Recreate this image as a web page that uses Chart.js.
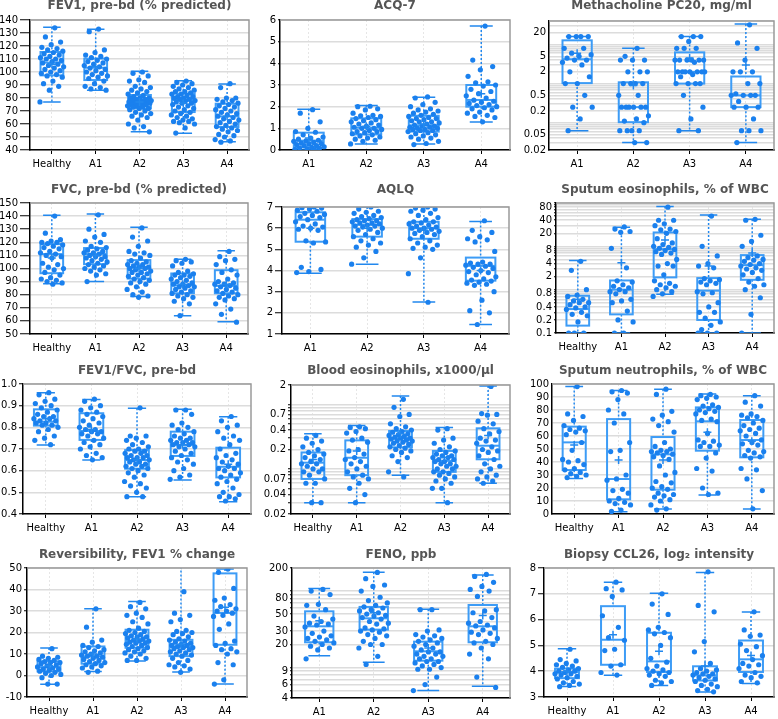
<!DOCTYPE html>
<html>
<head>
<meta charset="utf-8">
<script src="https://cdn.jsdelivr.net/npm/chart.js@4.4.1/dist/chart.umd.min.js"></script>
<style>
  html, body { margin: 0; padding: 0; background: #fff; }
  #wrap { position: relative; width: 778px; height: 719px; overflow: hidden; }
  .cell { position: absolute; }
</style>
</head>
<body>
<div id="wrap"></div>
<script>
"use strict";

var groups5 = ["Healthy", "A1", "A2", "A3", "A4"];
var groups4 = ["A1", "A2", "A3", "A4"];

// box stats per group: [whisker low, Q1, median, Q3, whisker high, mean]

// FEV1, pre-bd
var fev1Points = [
  [134,127,123,121,119,118,117,116,115,114,113,112,111,110,110,109,108,107,106,105,104,103,102,101,100,99,98,97,96,93,91,89,86,77],
  [133,131,117,115,113,112,111,110,109,108,107,106,105,104,103,102,101,100,99,98,97,96,95,93,91,89,88,87,86],
  [100,99,97,94,93,92,89,88,87,86,85,84,83,82,81,80,80,80,79,79,78,78,78,77,77,77,76,76,76,75,75,75,74,74,73,73,72,72,71,70,69,68,67,66,65,63,60,58,57,54],
  [93,92,91,90,89,88,87,86,85,85,84,83,83,82,81,81,80,80,79,79,78,78,77,76,76,75,74,73,72,71,70,69,68,67,66,65,64,63,62,62,61,60,57,53],
  [91,88,80,80,79,78,77,76,75,74,73,72,71,70,69,68,67,66,65,64,63,62,61,60,59,58,57,56,55,54,52,51,50,48,47,46]
];
var fev1Box = [[77,97.4,107.2,115.4,134.4,106],[86,93.8,103.3,110.3,132.8,104],[54,72,77.2,82.3,100.5,77],[52.8,69.2,78.5,83.3,93.3,76],[46.4,57.7,65.9,75.6,90.8,66]];

// ACQ-7
var acqPoints = [
  [1.86,1.7,1.3,1.0,0.85,0.82,0.7,0.6,0.55,0.5,0.45,0.42,0.4,0.35,0.32,0.3,0.28,0.25,0.2,0.2,0.15,0.12,0.1,0.08,0.05,0.02,0],
  [2.02,2.0,1.9,1.85,1.7,1.6,1.58,1.55,1.5,1.45,1.4,1.35,1.3,1.25,1.2,1.15,1.1,1.05,1.0,1.0,0.95,0.9,0.85,0.85,0.8,0.75,0.7,0.65,0.6,0.55,0.5,0.45,0.4,0.28],
  [2.45,2.4,2.2,2.1,2.0,1.9,1.85,1.8,1.75,1.7,1.65,1.6,1.55,1.5,1.45,1.45,1.4,1.35,1.3,1.3,1.25,1.2,1.15,1.1,1.1,1.05,1.05,1.0,1.0,0.95,0.95,0.9,0.9,0.85,0.8,0.75,0.7,0.65,0.6,0.55,0.5,0.4,0.3,0.25],
  [5.72,4.15,3.85,3.7,3.4,3.15,3.1,3.0,2.95,2.8,2.7,2.6,2.5,2.4,2.3,2.25,2.2,2.15,2.1,2.05,2.0,1.95,1.9,1.85,1.75,1.7,1.6,1.55,1.5,1.3]
];
var acqBox = [[0,0.12,0.43,0.8,1.88,0.55],[0.28,0.72,1.03,1.46,2.05,1.1],[0.28,0.85,1.14,1.58,2.43,1.2],[1.29,2.0,2.31,3.0,5.72,2.6]];

// Methacholine PC20
var methPoints = [
  [16,16,16,16,8,8,6,5.5,5,4.5,4,4,3.5,3,2,1.5,1,1,0.5,0.25,0.25,0.125,0.0625],
  [8,5,4,4,4,2,2,2,1,1,1,1,0.5,0.5,0.25,0.25,0.25,0.25,0.25,0.25,0.15,0.125,0.11,0.1,0.0625,0.0625,0.0625,0.0625,0.031,0.031],
  [16,16,16,12,8,8,8,4,4,4,4,4,4,3.5,2,2,2,2,2,2,2,1.7,1.5,1,1,1,1,0.5,0.25,0.125,0.0625,0.0625],
  [32,11,8,4,2,2,2,1,1,0.55,0.5,0.5,0.5,0.5,0.35,0.25,0.25,0.25,0.125,0.0625,0.0625,0.0625,0.031]
];
var methBox = [[0.0625,1.03,4.2,12.8,16,6],[0.031,0.103,0.25,1.08,8,0.9],[0.0625,1.0,2.0,6.3,16,4.5],[0.031,0.25,0.5,1.52,33.7,3]];
var methTicks = [0.02, 0.05, 0.2, 0.5, 2, 5, 20];

// FVC, pre-bd
var fvcPoints = [
  [140,127,122,121,120,120,119,118,117,116,115,113,112,111,110,109,108,104,103,101,100,99,97,95,93,92,91,90,89,88],
  [141,130,126,124,121,120,117,116,115,114,113,112,112,111,110,109,109,108,107,106,105,104,103,102,101,100,99,98,96,95,90],
  [131,124,121,117,113,112,111,110,108,106,105,104,103,103,102,101,101,100,100,99,98,97,97,96,95,94,93,92,91,90,89,88,86,84,82,80,79,78],
  [107,106,105,104,102,98,97,96,95,95,94,93,92,91,90,89,88,88,87,86,86,85,84,83,82,81,80,79,78,77,75,73,64],
  [113,109,107,106,103,99,97,95,92,90,89,88,88,87,86,85,84,83,82,81,80,79,78,77,76,73,69,65,59]
];
var fvcBox = [[88.3,96.4,111,118.6,140.6,108],[90,103.3,111,115.6,141.6,110],[78.6,92.3,101,106.4,131.4,100],[64,81.1,87.2,96.2,107.1,88],[59.4,81.1,86.7,98.7,113.5,88]];

// AQLQ
var aqlqPoints = [
  [7,6.97,6.95,6.9,6.85,6.8,6.7,6.65,6.6,6.55,6.5,6.4,6.3,6.2,6.1,6.05,6.0,5.95,5.9,5.4,5.35,5.3,4.15,4.05,3.95,3.9],
  [7,6.9,6.8,6.75,6.7,6.6,6.55,6.5,6.45,6.4,6.35,6.35,6.3,6.25,6.25,6.2,6.15,6.1,6.1,6.05,6.0,5.95,5.9,5.8,5.7,5.6,5.5,5.4,5.3,5.2,5.1,4.9,4.6,4.3],
  [7,6.95,6.9,6.85,6.8,6.7,6.6,6.5,6.4,6.3,6.3,6.25,6.2,6.15,6.1,6.05,6.0,6.0,5.95,5.9,5.85,5.8,5.75,5.7,5.6,5.5,5.4,5.3,5.2,5.1,5.05,5.0,4.6,3.85,2.5],
  [6.35,5.9,5.8,5.6,5.5,5.45,5.35,4.9,4.4,4.35,4.3,4.3,4.25,4.2,4.15,4.1,4.0,3.95,3.9,3.8,3.7,3.6,3.55,3.5,3.45,3.4,3.35,3.3,3.0,2.6,2.1,2.0,1.45]
];
var aqlqBox = [[3.87,5.36,6.4,6.75,7,6.0],[4.3,5.6,6.16,6.43,7,6.0],[2.51,5.5,6.0,6.3,7,5.9],[1.45,3.52,4.22,4.61,6.32,4.0]];

// Sputum eosinophils
var speosPoints = [
  [4.5,2.8,1.0,0.75,0.7,0.6,0.55,0.5,0.5,0.45,0.4,0.38,0.35,0.3,0.27,0.25,0.18,0.1,0.1,0.1],
  [28,25,22,21,9,3.2,1.6,1.5,1.3,1.2,1.1,1.0,0.9,0.9,0.8,0.6,0.55,0.5,0.32,0.2,0.18,0.1,0.1],
  [80,40,40,33,30,25,24,22,20,15,12,11,10,9.5,9,8.5,8,7.5,7,6.5,5,4,3.5,3.5,2.2,1.6,1.4,1.3,1.2,1.1,1.0,0.9,0.8,0.7],
  [50,10,6,4,3.5,3.2,1.8,1.7,1.6,1.5,1.4,1.3,0.9,0.85,0.8,0.5,0.4,0.3,0.3,0.22,0.18,0.15,0.12,0.1,0.1,0.1],
  [42,40,18,13,10,6,5.5,5,4.8,4.5,4,3.8,3.5,3.2,3,2.8,2.5,2.2,1.8,1.5,1.3,1.2,1.0,0.65,0.27,0.1]
];
var speosBox = [[0.1,0.148,0.357,0.725,4.72,0.6],[0.1,0.269,1.0,1.63,27.7,4.2],[0.78,1.92,8.6,20.9,83,14],[0.1,0.2,0.95,1.85,53,3.5],[0.1,1.69,3.69,6.27,42.4,7]];
var speosTicks = [0.1, 0.2, 0.4, 0.8, 2, 4, 8, 20, 40, 80];

// FEV1/FVC
var ratioPoints = [
  [0.96,0.95,0.93,0.92,0.91,0.9,0.89,0.88,0.87,0.86,0.85,0.85,0.84,0.84,0.83,0.83,0.82,0.82,0.81,0.81,0.8,0.79,0.78,0.76,0.75,0.74,0.72],
  [0.93,0.92,0.9,0.89,0.88,0.87,0.86,0.85,0.84,0.83,0.82,0.81,0.8,0.79,0.79,0.78,0.78,0.77,0.77,0.76,0.75,0.74,0.73,0.72,0.71,0.7,0.68,0.67,0.66,0.65],
  [0.89,0.76,0.76,0.75,0.74,0.73,0.72,0.71,0.7,0.7,0.69,0.69,0.68,0.68,0.67,0.67,0.66,0.66,0.66,0.65,0.65,0.64,0.64,0.63,0.63,0.62,0.62,0.61,0.61,0.6,0.59,0.58,0.57,0.55,0.54,0.53,0.52,0.5,0.48,0.48],
  [0.88,0.88,0.86,0.82,0.81,0.8,0.79,0.78,0.77,0.76,0.75,0.75,0.74,0.74,0.73,0.73,0.73,0.72,0.72,0.71,0.71,0.7,0.69,0.68,0.67,0.66,0.65,0.64,0.63,0.61,0.6,0.58,0.57,0.56],
  [0.85,0.83,0.81,0.8,0.78,0.76,0.75,0.74,0.72,0.7,0.68,0.67,0.66,0.65,0.64,0.63,0.62,0.61,0.61,0.6,0.59,0.58,0.57,0.56,0.55,0.54,0.52,0.5,0.49,0.48,0.48,0.47,0.46]
];
var ratioBox = [[0.718,0.808,0.826,0.883,0.96,0.84],[0.649,0.742,0.783,0.865,0.929,0.79],[0.48,0.609,0.649,0.695,0.888,0.65],[0.557,0.668,0.718,0.78,0.883,0.72],[0.457,0.569,0.618,0.706,0.849,0.63]];

// Blood eosinophils
var beosPoints = [
  [0.33,0.3,0.27,0.25,0.22,0.2,0.18,0.17,0.16,0.15,0.14,0.13,0.12,0.12,0.11,0.1,0.1,0.09,0.09,0.08,0.07,0.06,0.06,0.03,0.03],
  [0.45,0.44,0.42,0.38,0.36,0.3,0.28,0.26,0.2,0.19,0.17,0.15,0.14,0.13,0.12,0.11,0.1,0.09,0.08,0.075,0.07,0.06,0.05,0.04,0.03],
  [1.2,0.9,0.7,0.65,0.5,0.45,0.42,0.4,0.38,0.37,0.35,0.34,0.33,0.32,0.31,0.3,0.3,0.29,0.28,0.27,0.27,0.26,0.25,0.24,0.23,0.22,0.21,0.2,0.19,0.18,0.16,0.15,0.13,0.09,0.075],
  [0.42,0.4,0.3,0.28,0.25,0.22,0.2,0.19,0.18,0.17,0.16,0.16,0.15,0.15,0.14,0.14,0.13,0.13,0.12,0.12,0.11,0.11,0.1,0.1,0.09,0.09,0.085,0.08,0.075,0.07,0.065,0.06,0.05,0.05,0.03],
  [1.9,0.72,0.7,0.68,0.55,0.5,0.42,0.38,0.35,0.3,0.28,0.27,0.25,0.22,0.2,0.19,0.18,0.16,0.14,0.12,0.11,0.1,0.09,0.08,0.075,0.07,0.065,0.06]
];
var beosBox = [[0.03,0.07,0.125,0.18,0.35,0.14],[0.03,0.08,0.149,0.277,0.47,0.19],[0.08,0.216,0.298,0.387,1.35,0.35],[0.03,0.09,0.133,0.19,0.44,0.15],[0.06,0.141,0.229,0.426,1.93,0.33]];
var beosTicks = [0.02, 0.04, 0.07, 0.2, 0.4, 0.7, 2];

// Sputum neutrophils
var neutPoints = [
  [98,77,75,72,68,66,65,64,63,61,55,49,42,41,40,38,35,34,32,31,30,29,28],
  [95,94,93,88,80,77,70,55,49,48,30,27,26,19,18,16,12,10,9,8,7,3,2],
  [96,92,79,76,73,71,68,63,55,52,50,49,48,48,47,46,45,44,42,37,32,30,25,24,21,20,19,16,15,14,13,11,10,7,4,3],
  [92,91,90,89,88,84,83,82,81,80,79,78,77,73,72,71,62,57,56,55,53,52,52,47,43,35,33,20,16,15],
  [91,86,83,77,76,75,74,72,70,68,66,65,64,62,60,57,55,54,53,49,48,47,45,44,43,35,34,27,18,4]
];
var neutBox = [[27.4,33.8,55.1,67.2,98,53],[1.8,11.3,26.9,73,95,41.5],[3.8,18.7,45.9,59.2,96,41.5],[14.6,48.7,71.3,82,92.3,62.8],[3.8,43.6,56.9,72.3,91,56]];

// Reversibility
var revPoints = [
  [12.5,9,8.5,8,7.5,7,6.5,6,6,5.5,5,4.5,4,3.5,3,3,2.5,2,1.5,1,0.5,0,-1,-4,-4],
  [31,22.5,16.5,15.5,14,13.5,13,12,11.5,11,10.5,10,9.5,9,9,8.5,8,7.5,7,6.5,6,5.5,5,4.5,4,3.5,2,1.5],
  [34,32,31,29,28,27,25,24,22,21,20.5,20,19.5,19,18.5,18,18,17.5,17,16.5,16,16,15.5,15,15,14.5,14,13.5,13,12.5,12,11.5,11,10.5,10,9,8,7,7],
  [39,29,28,26,25,21,20.5,20,19.5,19,18,17,16.5,16,15.5,15,14.5,14,14,13.5,13,13,12.5,12,11.5,11,10.5,10,9.5,9,8,7,6,5,4.5,4,3,1.5],
  [49.5,48,40.5,36,35,33,32,31,30,30,29,28,27.5,24,21.5,16,15,14,12.5,12,11,10,6,5,-2,-4]
];
var revBox = [[-4.1,1.9,3.9,6.6,12.8,4.5],[1.9,5.5,8.9,13.5,31,10],[6.7,12.9,16,21.3,34.4,17],[1.6,9,13.5,16.6,60,14.5],[-3.9,14.3,29.1,47.5,49.5,31.8]];

// FENO
var fenoPoints = [
  [105,100,90,67,65,57,47,43,40,38,37,36,34,30,28,26,25,24,23,22,21,20,19,18,17,13],
  [175,145,120,115,100,83,75,70,65,62,60,57,55,52,50,48,47,45,43,40,38,37,33,32,31,30,29,27,26,24,22,20,20,18,14,11],
  [57,57,31,30,27,26,25,24,23,22,21,20,19,18,17,16,16,15,15,14,14,13,13,12,12,11.5,11,10.5,10,9.5,9.5,7.5,6,5],
  [165,155,130,115,105,100,85,57,55,52,45,40,38,36,35,33,31,29,28,27,24,22,21,20,18,15,13,7.5,5.5]
];
var fenoBox = [[14.3,21.4,34.6,54.3,108,41],[11.7,31.3,44,62,176,52],[5,12.3,16.3,21.8,58,18],[5.7,21.4,34.6,65.7,162,48]];
var fenoTicks = [4, 6, 9, 20, 30, 50, 80, 200];

// Biopsy CCL26
var ccl26Points = [
  [4.85,4.45,4.4,4.3,4.25,4.2,4.15,4.1,4.05,4,4,3.95,3.9,3.9,3.85,3.8,3.75,3.7,3.6,3.55,3.5,3.45,3.4],
  [7.45,7.2,7.15,6.9,6.15,5.7,5.3,5.2,4.85,4.8,4.25,4.2,3.95,3.85],
  [7.0,6.6,6.2,5.7,5.6,5.5,5.45,5.3,5.0,4.5,4.35,4.2,4.1,4.05,4,3.95,3.9,3.85,3.8,3.65,3.6,3.55,3.45],
  [7.85,6.55,6.3,5.15,4.75,4.3,4.1,4.05,4,3.95,3.9,3.9,3.85,3.8,3.75,3.7,3.65,3.6,3.5,3.45,3.4,3.3,3.25,3.2],
  [6.3,5.6,5.4,5.35,5.05,4.95,4.8,4.6,4.45,4.3,4.25,4.2,4.1,3.95,3.85,3.8,3.75,3.6,3.55]
];
var ccl26Box = [[3.41,3.73,3.97,4.1,4.87,4.0],[3.84,4.25,5.22,6.52,7.45,5.41],[3.45,3.97,4.38,5.49,7.02,4.77],[3.19,3.64,3.84,4.19,7.83,4.2],[3.52,3.97,4.46,5.19,6.29,4.61]];

var panels = [
  { title: "FEV1, pre-bd (% predicted)", groups: groups5, points: fev1Points, box: fev1Box, y: { min: 40, max: 140, step: 10 } },
  { title: "ACQ-7", groups: groups4, points: acqPoints, box: acqBox, y: { min: 0, max: 6, step: 1 } },
  { title: "Methacholine PC20, mg/ml", groups: groups4, points: methPoints, box: methBox, y: { min: 0.02, max: 40, labels: methTicks } },
  { title: "FVC, pre-bd (% predicted)", groups: groups5, points: fvcPoints, box: fvcBox, y: { min: 50, max: 150, step: 10 } },
  { title: "AQLQ", groups: groups4, points: aqlqPoints, box: aqlqBox, y: { min: 1, max: 7, step: 1 } },
  { title: "Sputum eosinophils, % of WBC", groups: groups5, points: speosPoints, box: speosBox, y: { min: 0.1, max: 100, labels: speosTicks } },
  { title: "FEV1/FVC, pre-bd", groups: groups5, points: ratioPoints, box: ratioBox, y: { min: 0.4, max: 1, step: 0.1 } },
  { title: "Blood eosinophils, x1000/\u00b5l", groups: groups5, points: beosPoints, box: beosBox, y: { min: 0.02, max: 2, labels: beosTicks } },
  { title: "Sputum neutrophils, % of WBC", groups: groups5, points: neutPoints, box: neutBox, y: { min: 0, max: 100, step: 10 } },
  { title: "Reversibility, FEV1 % change", groups: groups5, points: revPoints, box: revBox, y: { min: -10, max: 50, step: 10 } },
  { title: "FENO, ppb", groups: groups4, points: fenoPoints, box: fenoBox, y: { min: 4, max: 200, labels: fenoTicks } },
  { title: "Biopsy CCL26, log\u2082 intensity", groups: groups5, points: ccl26Points, box: ccl26Box, y: { min: 3, max: 8, step: 1 } }
];

// page layout: plot rectangle [left, right, top, bottom, label gap] for each panel
var frames = [
  [30, 249, 20, 150, 12], [280, 510, 20, 150, 4], [549, 777, 21, 150, 3],
  [30, 248, 203, 334, 12], [282, 509, 207, 334, 9], [556, 777, 203, 333, 4],
  [23, 251, 384, 514, 6], [291, 510, 385, 514, 5], [552, 777, 384, 514, 2],
  [27, 247, 568, 697, 5], [292, 510, 568, 698, 4], [544, 777, 568, 697, 8]
];
var colX = [0, 259, 519, 778];
var rowY = [0, 180, 360, 539, 719];
var titleTop = [0, 3.5, 5, 9.5];

var pointColor = '#1a80ee';
var boxColor = '#3d9cf6';
var whiskerColor = '#2288ee';
var boxWidth = 0.52, capWidth = 0.4;
var tickFont = { family: 'DejaVu Sans', size: 10 };

function jitter(i) {
  return (((i + 1) * 0.6180339887) % 1 - 0.5) * 0.56;
}

function logGrid(min, max) {
  var out = [];
  for (var d = Math.floor(Math.log10(min)); d <= Math.ceil(Math.log10(max)); d++) {
    for (var m = 1; m <= 9; m++) {
      var v = Number((m * Math.pow(10, d)).toPrecision(6));
      if (v >= min * 0.999999 && v <= max * 1.000001) out.push(v);
    }
  }
  return out;
}

function makeBoxPlugin(stats) {
  return {
    id: 'boxplot',
    beforeDatasetsDraw: function (chart) {
      var ctx = chart.ctx, xs = chart.scales.x, ys = chart.scales.y, a = chart.chartArea;
      ctx.save();
      ctx.beginPath();
      ctx.rect(a.left, a.top, a.right - a.left, a.bottom - a.top);
      ctx.clip();
      stats.forEach(function (s, g) {
        var cx = xs.getPixelForValue(g);
        var hw = xs.getPixelForValue(g + boxWidth / 2) - cx;
        var cw = xs.getPixelForValue(g + capWidth / 2) - cx;
        var lo = ys.getPixelForValue(s[0]), q1 = ys.getPixelForValue(s[1]);
        var md = ys.getPixelForValue(s[2]), q3 = ys.getPixelForValue(s[3]);
        var hi = ys.getPixelForValue(s[4]);
        ctx.strokeStyle = whiskerColor;
        ctx.lineWidth = 1.5;
        ctx.setLineDash([2, 2]);
        ctx.beginPath();
        ctx.moveTo(cx, hi); ctx.lineTo(cx, q3);
        ctx.moveTo(cx, q1); ctx.lineTo(cx, lo);
        ctx.stroke();
        ctx.setLineDash([]);
        ctx.beginPath();
        ctx.moveTo(cx - cw, hi); ctx.lineTo(cx + cw, hi);
        ctx.moveTo(cx - cw, lo); ctx.lineTo(cx + cw, lo);
        ctx.stroke();
        ctx.strokeStyle = boxColor;
        ctx.lineWidth = 2;
        ctx.strokeRect(cx - hw, q3, 2 * hw, q1 - q3);
        ctx.beginPath();
        ctx.moveTo(cx - hw, md); ctx.lineTo(cx + hw, md);
        ctx.stroke();
      });
      ctx.restore();
    },
    afterDatasetsDraw: function (chart) {
      var ctx = chart.ctx, xs = chart.scales.x, ys = chart.scales.y;
      ctx.save();
      ctx.strokeStyle = whiskerColor;
      ctx.lineWidth = 1.5;
      stats.forEach(function (s, g) {
        var cx = xs.getPixelForValue(g), my = ys.getPixelForValue(s[5]);
        ctx.beginPath();
        ctx.moveTo(cx - 4, my); ctx.lineTo(cx + 4, my);
        ctx.moveTo(cx, my - 4); ctx.lineTo(cx, my + 4);
        ctx.stroke();
      });
      ctx.restore();
    }
  };
}

var framePlugin = {
  id: 'frame',
  afterDraw: function (chart) {
    var ctx = chart.ctx, a = chart.chartArea;
    ctx.save();
    ctx.strokeStyle = '#9a9a9a';
    ctx.lineWidth = 1.5;
    ctx.beginPath();
    ctx.moveTo(a.left, a.top); ctx.lineTo(a.right, a.top); ctx.lineTo(a.right, a.bottom);
    ctx.stroke();
    ctx.restore();
  }
};

var wrap = document.getElementById('wrap');

panels.forEach(function (p, k) {
  var col = k % 3, row = Math.floor(k / 3);
  var f = frames[k];
  var left = colX[col], top = rowY[row];
  var w = colX[col + 1] - left, h = rowY[row + 1] - top;

  var cell = document.createElement('div');
  cell.className = 'cell';
  cell.style.left = left + 'px';
  cell.style.top = top + 'px';
  var canvas = document.createElement('canvas');
  canvas.width = w;
  canvas.height = h;
  canvas.style.width = w + 'px';
  canvas.style.height = h + 'px';
  cell.appendChild(canvas);
  wrap.appendChild(cell);

  var pts = [];
  p.points.forEach(function (vals, g) {
    vals.forEach(function (v, i) { pts.push({ x: g + jitter(i), y: v }); });
  });

  var yScale;
  if (p.y.labels) {
    var labels = p.y.labels;
    var grid = logGrid(p.y.min, p.y.max);
    yScale = {
      type: 'logarithmic', min: p.y.min, max: p.y.max,
      afterBuildTicks: function (s) { s.ticks = grid.map(function (v) { return { value: v }; }); },
      ticks: {
        autoSkip: false, color: '#000', font: tickFont, padding: 2,
        callback: function (v) {
          for (var j = 0; j < labels.length; j++) {
            if (Math.abs(labels[j] - v) / labels[j] < 1e-6) return String(labels[j]);
          }
          return '';
        }
      }
    };
  } else {
    yScale = {
      type: 'linear', min: p.y.min, max: p.y.max,
      ticks: { stepSize: p.y.step, autoSkip: false, color: '#000', font: tickFont, padding: 2 }
    };
  }
  yScale.grid = { color: '#dcdcdc', lineWidth: 1.5, tickLength: Math.max(f[4] - 2, 1), tickColor: '#000', tickWidth: 1 };
  yScale.border = { color: '#000', width: 1.5 };
  yScale.afterFit = function (s) { s.width = f[0] - left; };

  var bottomGap = top + h - f[3];
  var tTop = titleTop[row];

  new Chart(canvas.getContext('2d'), {
    type: 'scatter',
    data: {
      datasets: [{
        data: pts,
        backgroundColor: pointColor,
        borderWidth: 0,
        pointRadius: 2.6,
        pointBorderWidth: 0,
        clip: 0
      }]
    },
    options: {
      responsive: false,
      animation: false,
      events: [],
      layout: { padding: { left: 0, right: left + w - f[1], top: 0, bottom: 0 } },
      plugins: {
        legend: { display: false },
        tooltip: { enabled: false },
        title: {
          display: true,
          text: p.title,
          fullSize: false,
          color: '#555',
          font: { family: 'DejaVu Sans', size: 12, weight: 'bold', lineHeight: 1 },
          padding: { top: tTop, bottom: f[2] - top - tTop - 12 }
        }
      },
      scales: {
        x: {
          type: 'linear',
          min: -0.5,
          max: p.groups.length - 0.5,
          afterBuildTicks: function (s) { s.ticks = p.groups.map(function (g, i) { return { value: i }; }); },
          afterFit: function (s) { s.height = bottomGap; },
          ticks: {
            autoSkip: false, maxRotation: 0, minRotation: 0, color: '#000', font: tickFont, padding: 4,
            callback: function (v) { return p.groups[v]; }
          },
          grid: { color: '#e6e6e6', lineWidth: 1, tickLength: 4, tickColor: '#000' },
          border: { color: '#000', width: 1.5, dash: [2, 2] }
        },
        y: yScale
      }
    },
    plugins: [makeBoxPlugin(p.box), framePlugin]
  });
});
</script>
</body>
</html>
